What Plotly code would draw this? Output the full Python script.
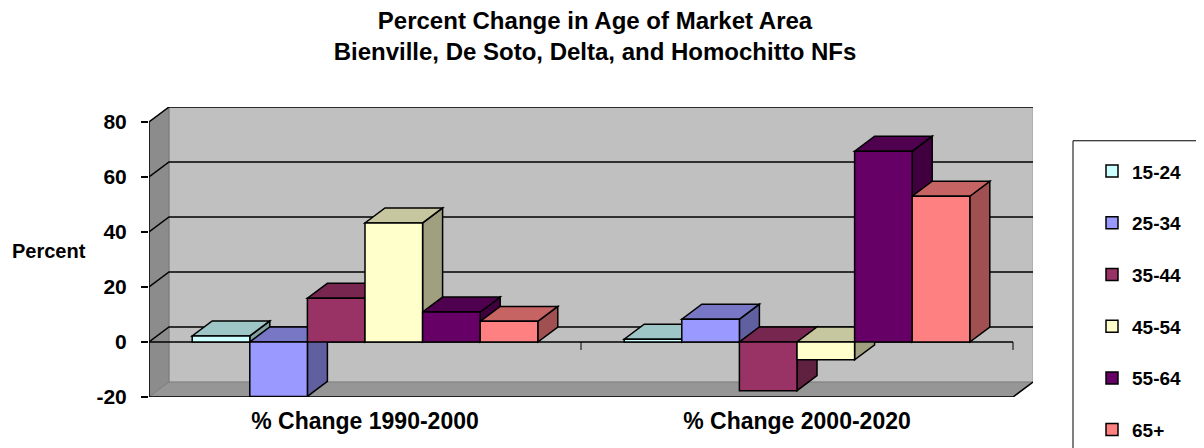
import plotly.graph_objects as go

# ---------------- data ----------------
categories = ["% Change 1990-2000", "% Change 2000-2020"]
age_groups = ["15-24", "25-34", "35-44", "45-54", "55-64", "65+"]
pct_15_24 = [2.2, 1.0]
pct_25_34 = [-19.8, 8.3]
pct_35_44 = [15.9, -17.7]
pct_45_54 = [43.3, -6.5]
pct_55_64 = [10.9, 69.4]
pct_65_plus = [7.5, 53.0]
y_ticks = [-20, 0, 20, 40, 60, 80]
y_tick_labels = ["-20", "0", "20", "40", "60", "80"]

series = [pct_15_24, pct_25_34, pct_35_44, pct_45_54, pct_55_64, pct_65_plus]
front_colors = ["#CCFFFF", "#9999FF", "#993366", "#FFFFCC", "#660066", "#FF8080"]

# ---------------- layout geometry ----------------
# screen positions measured on the target; the page body adds an 8px offset
OFF = 8
W, H = 1204, 448
AX_LEFT, AX_RIGHT_FRONT, WALL_RIGHT = 149, 1013, 1033
Y_FRONT_MIN_PX, Y_FRONT_MAX_PX = 397, 121.7
DEPTH_X_PX, DEPTH_Y_PX = 20, 15

L = AX_LEFT - OFF
R = W - (WALL_RIGHT - OFF)
B = H - (Y_FRONT_MIN_PX - OFF)
T = (Y_FRONT_MAX_PX - DEPTH_Y_PX) - OFF
plot_w = W - L - R
plot_h = H - T - B
YMIN, YMAX = -20, 80
px_per_cat = (AX_RIGHT_FRONT - AX_LEFT) / 2.0
DX = DEPTH_X_PX / px_per_cat
px_per_unit = (Y_FRONT_MIN_PX - Y_FRONT_MAX_PX) / (YMAX - YMIN)
DY = DEPTH_Y_PX / px_per_unit
XR = [-0.5, 1.5 + DX]
YR = [YMIN, YMAX + DY]

def paper_x(px):
    return (px - OFF - L) / plot_w

def paper_y(py):
    return (H - B - (py - OFF)) / plot_h

def shade(hexc, f):
    h = hexc.lstrip("#")
    r, g, b = (int(h[i:i + 2], 16) for i in (0, 2, 4))
    return "#%02X%02X%02X" % (int(r * f), int(g * f), int(b * f))

FONT = "Liberation Sans, Arial, sans-serif"

fig = go.Figure()
x_pos = list(range(len(categories)))
for name, vals, col in zip(age_groups, series, front_colors):
    fig.add_bar(
        x=x_pos, y=vals, name=name, legendgroup=name,
        marker=dict(color=col, line=dict(color="black", width=1.5)),
        hovertemplate=name + ": %{y}<extra></extra>",
    )

shapes = []
# back wall
shapes.append(dict(type="rect", xref="x", yref="y", layer="below",
                   x0=-0.5 + DX, x1=1.5 + DX, y0=YMIN + DY, y1=YMAX + DY,
                   fillcolor="#C0C0C0", line=dict(color="#A0A0A0", width=1)))
# left side wall
shapes.append(dict(type="path", xref="x", yref="y", layer="below",
                   path=f"M{-0.5},{YMIN} L{-0.5},{YMAX} L{-0.5 + DX},{YMAX + DY} L{-0.5 + DX},{YMIN + DY} Z",
                   fillcolor="#8C8C8C", line=dict(color="#777777", width=1)))
# floor
shapes.append(dict(type="path", xref="x", yref="y", layer="below",
                   path=f"M{-0.5},{YMIN} L{1.5},{YMIN} L{1.5 + DX},{YMIN + DY} L{-0.5 + DX},{YMIN + DY} Z",
                   fillcolor="#969696", line=dict(color="#808080", width=1)))
# floor front edge and right slant
shapes.append(dict(type="path", xref="x", yref="y", layer="below",
                   path=f"M{-0.5},{YMIN} L{1.5},{YMIN} L{1.5 + DX},{YMIN + DY}",
                   line=dict(color="black", width=1.5)))
# gridlines on side + back wall
for v in y_ticks[1:]:
    shapes.append(dict(type="path", xref="x", yref="y", layer="below",
                       path=f"M{-0.5},{v} L{-0.5 + DX},{v + DY} L{1.5 + DX},{v + DY}",
                       line=dict(color="black", width=1.5)))
# front value axis line
shapes.append(dict(type="line", xref="x", yref="y", layer="below",
                   x0=-0.5, x1=-0.5, y0=YMIN, y1=YMAX,
                   line=dict(color="black", width=1.5)))
# category axis line at zero with tick marks between categories
shapes.append(dict(type="line", xref="x", yref="y", layer="below",
                   x0=-0.5, x1=1.5, y0=0, y1=0,
                   line=dict(color="black", width=1.5)))
for k in range(len(categories)):
    shapes.append(dict(type="line", xref="x", yref="y", layer="below",
                       x0=k + 0.5, x1=k + 0.5, y0=0, y1=-8 / px_per_unit,
                       line=dict(color="black", width=1)))

# 3-D side and top faces of each bar, drawn left to right
n = len(series)
bw = 0.8 / n
for i in range(len(categories)):
    for j, (vals, col) in enumerate(zip(series, front_colors)):
        v = vals[i]
        x0 = i - 0.4 + j * bw
        x1 = x0 + bw
        lo, hi = min(v, 0), max(v, 0)
        shapes.append(dict(type="path", xref="x", yref="y", layer="below",
                           path=f"M{x1},{lo} L{x1},{hi} L{x1 + DX},{hi + DY} L{x1 + DX},{lo + DY} Z",
                           fillcolor=shade(col, 0.63), line=dict(color="black", width=1.5)))
        shapes.append(dict(type="path", xref="x", yref="y", layer="below",
                           path=f"M{x0},{hi} L{x1},{hi} L{x1 + DX},{hi + DY} L{x0 + DX},{hi + DY} Z",
                           fillcolor=shade(col, 0.78), line=dict(color="black", width=1.5)))

# legend frame
shapes.append(dict(type="rect", xref="paper", yref="paper", layer="above",
                   x0=paper_x(1073), x1=paper_x(1230), y0=paper_y(470), y1=paper_y(140.5),
                   fillcolor="rgba(0,0,0,0)", line=dict(color="black", width=1)))

fig.update_layout(
    width=W, height=H, autosize=False,
    margin=dict(l=L, r=R, t=T, b=B, autoexpand=False),
    paper_bgcolor="white", plot_bgcolor="white",
    barmode="group", bargap=0.2, bargroupgap=0,
    font=dict(family=FONT, color="black"),
    title=dict(
        text="Percent Change in Age of Market Area<br>Bienville, De Soto, Delta, and Homochitto NFs",
        x=(595 - OFF) / W, xanchor="center", y=1 - 20.5 / H, yanchor="middle",
        font=dict(family=FONT, size=24, weight="bold", color="black"),
    ),
    xaxis=dict(range=XR, tickvals=x_pos, ticktext=categories, showgrid=False,
               zeroline=False, showline=False, ticks="", ticklabelstandoff=8,
               tickfont=dict(family=FONT, size=23, weight="bold", color="black"),
               fixedrange=True),
    yaxis=dict(range=YR, tickvals=y_ticks, ticktext=y_tick_labels, showgrid=False,
               zeroline=False, showline=False, ticks="outside", ticklen=7, tickwidth=1.5,
               tickcolor="black", ticklabelstandoff=10,
               tickfont=dict(family=FONT, size=21, weight="bold", color="black"),
               fixedrange=True),
    legend=dict(x=paper_x(1092), xanchor="left", y=paper_y(152), yanchor="top",
                traceorder="grouped", tracegroupgap=24, maxheight=440,
                bgcolor="rgba(0,0,0,0)", borderwidth=0,
                font=dict(family=FONT, size=19, weight="bold", color="black")),
    shapes=shapes,
    annotations=[dict(text="Percent", xref="paper", yref="paper",
                      x=paper_x(49), y=paper_y(251), xanchor="center", yanchor="middle",
                      showarrow=False,
                      font=dict(family=FONT, size=20, weight="bold", color="black"))],
)

fig.write_html("out.html")
